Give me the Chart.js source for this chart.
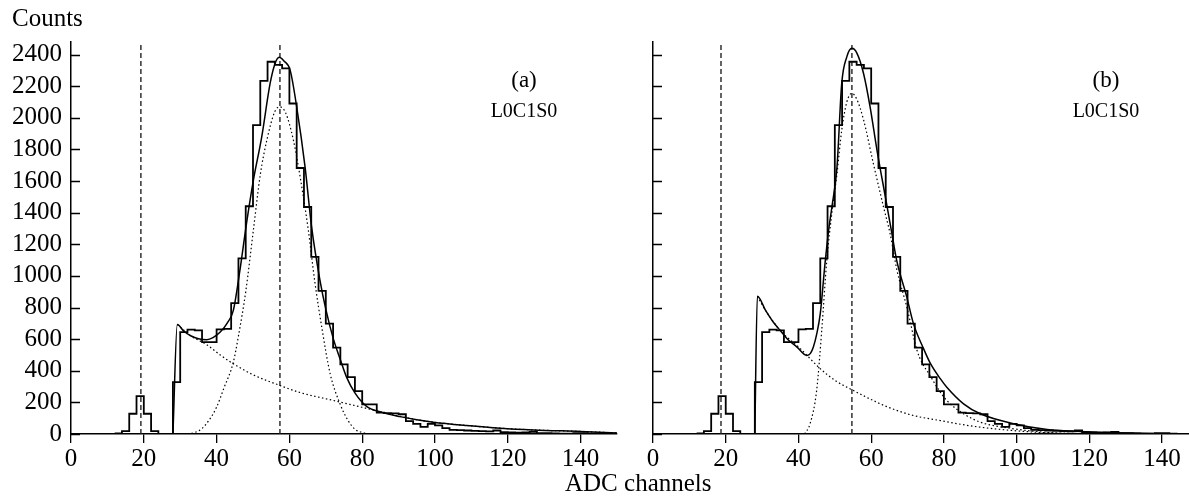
<!DOCTYPE html>
<html>
<head>
<meta charset="utf-8">
<script src="https://cdn.jsdelivr.net/npm/chart.js@4.4.0/dist/chart.umd.min.js"></script>
<style>
  body { margin:0; background:#fff; width:1189px; height:496px; overflow:hidden; position:relative;
         font-family:"Liberation Serif","Times New Roman",serif; color:#000; }
  .box { position:absolute; top:0; height:496px; }
  .txt { position:absolute; white-space:nowrap; line-height:1; }
  .mid { transform:translateX(-50%); }
</style>
</head>
<body>
<div class="box" style="left:0;width:620px"><canvas id="chartA"></canvas></div>
<div class="box" style="left:620px;width:569px"><canvas id="chartB"></canvas></div>
<div class="txt" style="left:12px;top:5px;font-size:25px">Counts</div>
<div class="txt" style="left:565px;top:470px;font-size:25px">ADC channels</div>
<div class="txt mid" style="left:524px;top:68px;font-size:23px">(a)</div>
<div class="txt mid" style="left:524px;top:100px;font-size:20px">L0C1S0</div>
<div class="txt mid" style="left:1106px;top:68px;font-size:23px">(b)</div>
<div class="txt mid" style="left:1106px;top:100px;font-size:20px">L0C1S0</div>
<script>
// tick positions
var xTickVals = [0,20,40,60,80,100,120,140];
var yTickVals = [0,200,400,600,800,1000,1200,1400,1600,1800,2000,2200,2400];

// histogram (same spectrum in both panels): left bin edges and counts
var binEdges = [12,14,16,18,20,22,24,26,28,30,32,34,36,38,40,42,44,46,48,50,52,54,56,58,60,62,64,66,68,70,
    72,74,76,78,80,82,84,86,88,90,92,94,96,98,100,102,104,106,108,110,112,114,116,118,120,122,124,126,128,130,
    132,134,136,138,140,142,144,146,148,150];
var binCounts = [4,18,128,240,128,18,0,0,328,645,660,655,581,581,662,665,828,1111,1441,1954,2234,2355,2335,2313,2091,1683,
    1436,1120,905,698,546,440,360,271,187,187,135,132,130,125,81,64,45,64,55,37,26,24,22,20,18,16,22,12,10,8,10,14,6,5,
    4,3,3,5,6,2,1,0,0,0];

// panel (a) fit curves
var fitA_x = [28,29.2,31,33,35,37.3,39,41,43,44.6,46.4,48.2,50.1,52.4,54.7,56,57.2,58.5,60.2,62,64.3,66.1,68.4,70,72.1,74,75.7,78,81.2,85,90.4,95,99.5,108.7,117.9,127,140,150];
var fitA_y = [0,693,650,620,603,597,610,645,705,782,1035,1330,1605,1880,2218,2340,2383,2360,2302,2070,1690,1310,972,790,600,470,360,260,175,140,110,90,75,54,37,26,16,7];
var bgA_x = [29.2,33,37.3,41,44.6,50,57.4,63,72.1,81.2,85,90.4,95,99.5,108.7,117.9,127,140,150];
var bgA_y = [693,620,565,500,444,375,307,262,212,162,140,112,90,75,54,37,26,16,7];
var sigA_x = [32,34,36,38,40,42,44.6,46,48,50.1,52,53.8,56,57.4,59,61.1,63,65.2,67,69,71.2,73.9,76,78,80.3,82];
var sigA_y = [0,10,35,90,170,290,455,620,900,1289,1640,1859,2040,2070,2030,1859,1620,1289,960,660,381,191,90,30,8,0];

// panel (b) fit curves
var fitB_x = [28,28.7,31,33,35,37,39.6,42.3,43.3,44.1,45,46,47.3,48.3,49.2,50.6,51.9,53.3,54.7,56.1,57.9,59.7,61.6,63.9,65.7,67,69.8,71.6,74.4,76.2,79,80.8,85.4,90,99.2,108.4,117.5,126.7,140,147.4];
var fitB_y = [0,871,780,710,655,600,550,497,510,550,630,761,1078,1289,1436,1690,2218,2386,2440,2408,2281,2070,1795,1500,1268,1100,866,700,540,450,350,296,191,128,65,28,16,8,2,1];
var bgB_x = [28.7,31,35,40.5,46,50,55.1,62.5,65.2,71.6,79,85,90,99,108,120,147.4];
var bgB_y = [871,780,655,540,413,340,275,191,165,117,85,60,43,22,8,2,0];
var sigB_x = [41.7,43.2,45,46.4,47.8,49.2,50.6,51.9,53.3,54.7,56,57.9,60.6,63.4,65.2,67.1,69.8,72.6,74,76.2,78.1,80.8,85.4,90,99.2,108.4,120,130];
var sigB_y = [0,65,275,655,1100,1400,1648,1922,2100,2155,2120,1988,1711,1436,1268,1035,803,530,450,370,296,212,128,75,33,10,2,0];

// dashed markers (pedestal and peak positions)
var markA = [19.2, 57.4];
var markB = [18.7, 54.7];

var yTop = 2480;

function pts(xs, ys) {
    return xs.map(function (x, i) { return {x: x, y: ys[i]}; });
}

function tickList(vals) {
    return vals.map(function (v) { return {value: v}; });
}

function marker(x) {
    return {data: [{x: x, y: 0}, {x: x, y: yTop}], borderColor: "#222", borderWidth: 1.4,
        borderDash: [5, 3], pointRadius: 0, tension: 0};
}

var innerTicks = {
    id: "innerTicks",
    afterDraw: function (chart) {
        var ys = chart.scales.y, ctx = chart.ctx, left = chart.chartArea.left;
        ctx.save();
        ctx.strokeStyle = "#000";
        ctx.lineWidth = 1.3;
        ctx.beginPath();
        ys.ticks.forEach(function (t) {
            var py = Math.round(ys.getPixelForValue(t.value)) + 0.5;
            ctx.moveTo(left, py);
            ctx.lineTo(left + 9, py);
        });
        ctx.stroke();
        ctx.restore();
    }
};

function makeChart(id, cfg) {
    var ctx = document.getElementById(id).getContext("2d");
    return new Chart(ctx, {
        type: "line",
        data: {
            datasets: [
                {data: pts(binEdges, binCounts), borderColor: "#000", borderWidth: 1.8, stepped: true, pointRadius: 0},
                {data: pts(cfg.fx, cfg.fy), borderColor: "#000", borderWidth: 1.5, pointRadius: 0, cubicInterpolationMode: "monotone"},
                {data: pts(cfg.bx, cfg.by), borderColor: "#000", borderWidth: 1.2, borderDash: [1.5, 2.5], pointRadius: 0, cubicInterpolationMode: "monotone"},
                {data: pts(cfg.sx, cfg.sy), borderColor: "#000", borderWidth: 1.2, borderDash: [1.5, 2.5], pointRadius: 0, cubicInterpolationMode: "monotone"},
                marker(cfg.marks[0]),
                marker(cfg.marks[1])
            ]
        },
        options: {
            responsive: true,
            maintainAspectRatio: false,
            animation: false,
            layout: {padding: {top: 42, right: cfg.padRight, left: 0, bottom: 0}},
            plugins: {legend: {display: false}, tooltip: {enabled: false}},
            scales: {
                x: {
                    type: "linear",
                    min: 0,
                    max: cfg.xMax,
                    border: {display: true, color: "#000", width: 1.5},
                    grid: {drawOnChartArea: false, drawTicks: true, tickLength: 9, color: "#000", lineWidth: 1.3},
                    ticks: {padding: 1, color: "#000", maxRotation: 0, autoSkip: false,
                        font: {family: "'Liberation Serif', serif", size: 25},
                        callback: function (v) { return String(v); }},
                    afterBuildTicks: function (s) { s.ticks = tickList(xTickVals); },
                    afterFit: function (s) { s.height = 62; }
                },
                y: {
                    min: 0,
                    max: yTop,
                    border: {display: true, color: "#000", width: 1.5},
                    grid: {drawOnChartArea: false, drawTicks: false},
                    ticks: {display: cfg.yLabels, padding: 9, color: "#000", autoSkip: false,
                        font: {family: "'Liberation Serif', serif", size: 25},
                        callback: function (v) { return String(v); }},
                    afterBuildTicks: function (s) { s.ticks = tickList(yTickVals); },
                    afterFit: function (s) { s.width = cfg.yWidth; }
                }
            }
        },
        plugins: [innerTicks]
    });
}

makeChart("chartA", {fx: fitA_x, fy: fitA_y, bx: bgA_x, by: bgA_y, sx: sigA_x, sy: sigA_y,
    marks: markA, xMax: 150, padRight: 3, yLabels: true, yWidth: 71});
makeChart("chartB", {fx: fitB_x, fy: fitB_y, bx: bgB_x, by: bgB_y, sx: sigB_x, sy: sigB_y,
    marks: markB, xMax: 147.4, padRight: 0, yLabels: false, yWidth: 33});
</script>
</body>
</html>
